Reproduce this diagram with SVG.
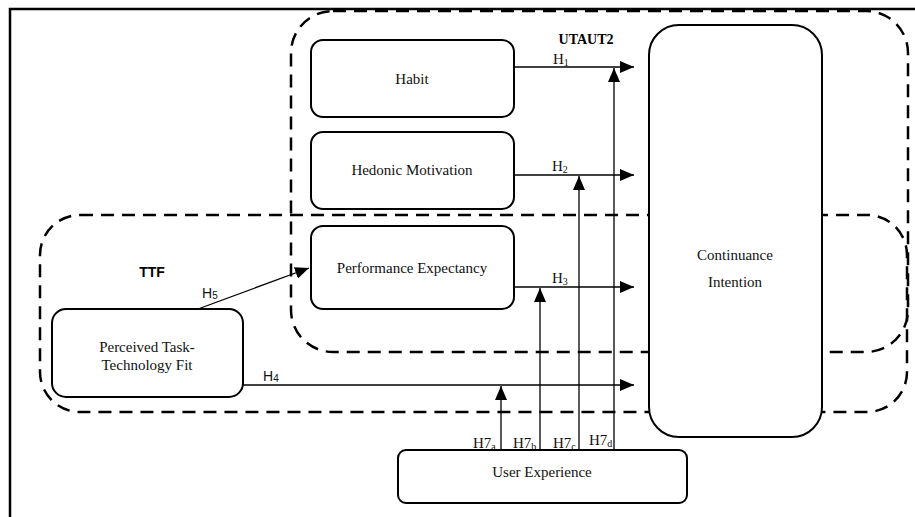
<svg xmlns="http://www.w3.org/2000/svg" width="915" height="517" viewBox="0 0 915 517">
<defs>
<marker id="ah" markerWidth="14" markerHeight="12" refX="14" refY="6" orient="auto" markerUnits="userSpaceOnUse">
<path d="M0,0 L14,6 L0,12 Z" fill="#000"/>
</marker>
<style>
.node{fill:#fff;stroke:#000;stroke-width:2}
.grp{fill:none;stroke:#000;stroke-width:2.5;stroke-dasharray:13 8}
.lbl{fill:#111;text-anchor:middle}
.h{fill:#111}
.sub{font-size:10px}
.con line{stroke:#000;stroke-width:1.3;marker-end:url(#ah)}
</style>
</defs>
<rect width="915" height="517" fill="#fff"/>
<path d="M10,517 V9 H915" fill="none" stroke="#000" stroke-width="2.5"/>
<g id="utaut2">
<rect class="grp" x="291" y="11" width="617" height="341" rx="42"/>
<text x="586" y="44" font-family="Liberation Serif, Times New Roman, serif" font-weight="bold" font-size="14" text-anchor="middle">UTAUT2</text>
</g>
<g id="ttf">
<rect class="grp" x="40" y="215" width="867" height="197" rx="40"/>
<text x="152" y="277" font-family="Liberation Sans, Arial, sans-serif" font-weight="bold" font-size="14" text-anchor="middle">TTF</text>
</g>
<g font-family="Liberation Serif, Times New Roman, serif" font-size="15">
<g id="habit"><rect class="node" x="311" y="40" width="203" height="77" rx="12"/><text class="lbl" x="412" y="84">Habit</text></g>
<g id="hedonic"><rect class="node" x="311" y="132" width="203" height="77" rx="12"/><text class="lbl" x="412" y="175">Hedonic Motivation</text></g>
<g id="performance"><rect class="node" x="311" y="226" width="203" height="83" rx="12"/><text class="lbl" x="412" y="273">Performance Expectancy</text></g>
<g id="continuance"><rect class="node" x="649" y="25" width="173" height="412" rx="30"/><text class="lbl" x="735" y="260">Continuance</text><text class="lbl" x="735" y="287">Intention</text></g>
<g id="pttf"><rect class="node" x="52" y="309" width="191" height="88" rx="14"/><text class="lbl" x="147" y="352">Perceived Task-</text><text class="lbl" x="147" y="370">Technology Fit</text></g>
<g id="ue"><rect class="node" x="398" y="450" width="289" height="53" rx="8"/><text class="lbl" x="542" y="477">User Experience</text></g>
</g>
<g id="connectors" class="con">
<line x1="514" y1="67" x2="634" y2="67"/>
<line x1="514" y1="175" x2="634" y2="175"/>
<line x1="514" y1="287" x2="634" y2="287"/>
<line x1="243" y1="385" x2="634" y2="385"/>
<line x1="198" y1="309" x2="309" y2="268"/>
<line x1="501" y1="450" x2="501" y2="386"/>
<line x1="540" y1="450" x2="540" y2="288"/>
<line x1="579" y1="450" x2="579" y2="176"/>
<line x1="614" y1="450" x2="614" y2="68"/>
</g>
<g id="labels" font-family="Liberation Serif, Times New Roman, serif" font-size="15">
<text class="h" x="553" y="64">H<tspan class="sub" dy="2">1</tspan></text>
<text class="h" x="552" y="171">H<tspan class="sub" dy="2">2</tspan></text>
<text class="h" x="552" y="283">H<tspan class="sub" dy="2">3</tspan></text>
<text class="h" x="263" y="381" font-family="Liberation Sans, Arial, sans-serif" font-size="14">H<tspan class="sub" dy="1">4</tspan></text>
<text class="h" x="202" y="298" font-family="Liberation Sans, Arial, sans-serif" font-size="14">H<tspan class="sub" dy="1">5</tspan></text>
<text class="h" x="473" y="448">H7<tspan class="sub" dy="2">a</tspan></text>
<text class="h" x="513" y="448">H7<tspan class="sub" dy="2">b</tspan></text>
<text class="h" x="553" y="448">H7<tspan class="sub" dy="2">c</tspan></text>
<text class="h" x="589" y="445">H7<tspan class="sub" dy="2">d</tspan></text>
</g>
</svg>
